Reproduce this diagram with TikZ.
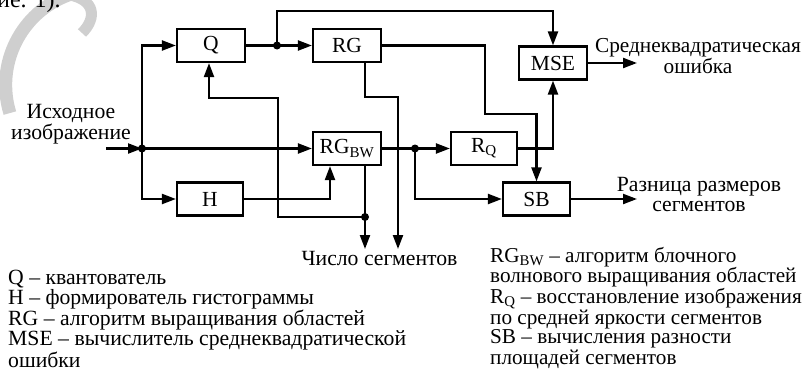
\documentclass[tikz,border=0pt]{standalone}
\usepackage{fontspec}
\setmainfont{Liberation Serif}
\usetikzlibrary{arrows.meta}
\begin{document}
\begin{tikzpicture}[x=1pt,y=-1pt,
  wire/.style={line width=2.2pt},
  arr/.style={wire,-{Triangle[length=14pt,width=10pt]}},
  blk/.style={draw,line width=2.2pt,minimum width=68pt,minimum height=33pt,inner sep=0pt,font=\fontsize{21.5}{21.5}\selectfont},
  dot/.style={circle,fill,inner sep=0pt,minimum size=8pt},
  lbl/.style={inner sep=0pt,font=\fontsize{21.7}{18}\selectfont},
  wm/.style={color=black!19}]
\useasboundingbox (0,0) rectangle (807,372);
% watermark and page fragment
\draw[wm,line width=13pt] (101.7,85) ++(250:96) arc[start angle=250,end angle=163,radius=96];
\draw[wm,line width=11pt] (70,-5) .. controls (95,0) and (97,18) .. (82,33);
\node[lbl,anchor=base west,font=\fontsize{24}{24}\selectfont] (frag) at (-3,8) {ие. 1).};
% blocks
\node[blk] (Q) at (211,45.5) {Q};
\node[blk] (RG) at (347,45.5) {RG};
\node[blk] (RGBW) at (347,148.5) {RG\textsubscript{BW}};
\node[blk,minimum width=66pt] (H) at (210,199) {H};
\node[blk] (MSE) at (553,63) {MSE};
\node[blk,minimum width=66pt] (RQ) at (484,148.5) {R\textsubscript{Q}};
\node[blk,minimum width=67pt] (SB) at (536.5,199) {SB};
% coordinates
\coordinate (in0) at (106,148.5);
\coordinate (j0) at (142,148.5);
\coordinate (j1) at (277,45.5);
\coordinate (j2) at (415,148.5);
\coordinate (j3) at (365,217);
\coordinate (t1) at (277,11);
\coordinate (b1) at (485,114);
\coordinate (b2) at (398,97);
\coordinate (b3) at (278,98);
\coordinate (o2) at (365,249);
\coordinate (o3) at (398,249);
\coordinate (o4) at (637,63);
\coordinate (o5) at (637,199);
% wires
\draw[arr] (in0) -- (j0);
\draw[arr] (j0) |- (Q.west);
\draw[arr] (j0) -- (RGBW.west);
\draw[arr] (j0) |- (H.west);
\draw[wire] (Q.east) -- (j1);
\draw[arr] (j1) -- (RG.west);
\draw[arr] (j1) -- (t1) -| (MSE.north);
\draw[arr] (RG.east) -| (b1) -| (SB.north);
\draw[arr] ([xshift=18pt]RG.south) |- (b2) -- (o3);
\draw[wire] ([xshift=18pt]RGBW.south) -- (j3);
\draw[arr] (j3) -- (o2);
\draw[arr] (j3) -| (b3) -| ([xshift=-2pt]Q.south);
\draw[arr] (H.east) -| ([xshift=-17pt]RGBW.south);
\draw[wire] (RGBW.east) -- (j2);
\draw[arr] (j2) -- (RQ.west);
\draw[arr] (j2) |- (SB.west);
\draw[arr] (RQ.east) -| (MSE.south);
\draw[arr] (MSE.east) -- (o4);
\draw[arr] (SB.east) -- (o5);
% junction dots
\node[dot] (dj0) at (j0) {};
\node[dot] (dj1) at (j1) {};
\node[dot] (dj2) at (j2) {};
\node[dot] (dj3) at (j3) {};
% labels (anchor = baseline of last line)
\node[lbl,align=center,anchor=base,font=\fontsize{21.7}{17}\selectfont] (lin) at (71,139) {Исходное\\изображение};
\node[lbl,align=center,anchor=base,font=\fontsize{21.3}{16.5}\selectfont] (lmse) at (698,73.5) {Среднеквадратическая\\ошибка};
\node[lbl,align=center,anchor=base,font=\fontsize{21.7}{20}\selectfont] (lsb) at (699,211.5) {Разница размеров\\сегментов};
\node[lbl,anchor=base] (lcnt) at (379.5,265) {Число сегментов};
\node[lbl,align=left,anchor=base west,font=\fontsize{21.7}{18.2}\selectfont] (leg1) at (8,367) {Q – квантователь\\H – формирователь гистограммы\\RG – алгоритм выращивания областей\\MSE – вычислитель среднеквадратической\\ошибки};
\node[lbl,align=left,anchor=base west,font=\fontsize{21.2}{17.6}\selectfont] (leg2) at (490,364) {RG\textsubscript{BW} – алгоритм блочного\\волнового выращивания областей\\R\textsubscript{Q} – восстановление изображения\\по средней яркости сегментов\\SB – вычисления разности\\площадей сегментов};
\end{tikzpicture}
\end{document}
